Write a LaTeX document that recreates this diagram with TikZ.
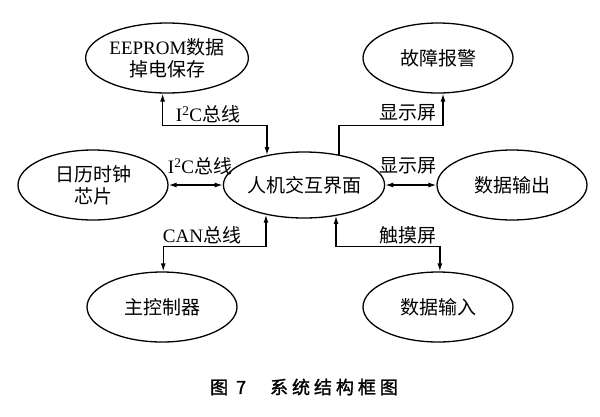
\documentclass[tikz,border=0pt]{standalone}
\usepackage{fontspec}
\setmainfont{Liberation Serif}
\newfontfamily\cjk{Noto Sans CJK SC}
\newfontfamily\capfont[FakeBold=1.5,LetterSpace=22]{Noto Sans CJK SC}
\usetikzlibrary{shapes.geometric,arrows.meta}
\tikzset{
  blob/.style={ellipse,draw,line width=1.3pt,minimum width=150pt,minimum height=70pt,inner sep=0pt,align=center,font=\fontsize{19pt}{22pt}\selectfont},
  wire/.style={line width=1.3pt},
  lbl/.style={inner sep=0pt,font=\fontsize{19pt}{22pt}\selectfont},
  >={Latex[length=8pt,width=5pt]}
}
\begin{document}
\begin{tikzpicture}[x=1pt,y=-1pt]
                    \useasboundingbox (0,0) rectangle (600,416);
                    \node[blob] (eeprom) at (167,58) {EEPROM{\cjk 数据}\\{\cjk 掉电保存}};
                    \node[blob] (alarm) at (438,58) {\cjk 故障报警};
                    \node[blob] (clock) at (93,185) {{\cjk 日历时钟}\\{\cjk 芯片}};
                    \node[blob,minimum width=148pt,minimum height=66pt] (hmi) at (304,185) {\cjk 人机交互界面};
                    \node[blob] (dout) at (512,185) {\cjk 数据输出};
                    \node[blob] (ctrl) at (162,307) {\cjk 主控制器};
                    \node[blob] (din) at (438,307) {\cjk 数据输入};

                    \draw[wire,<->] (eeprom.263) -- ++(0,32) -| (hmi.141);
                    \node[lbl] (busA) at (208,114) {I\textsuperscript{2}C{\cjk 总线}};

                    \draw[wire,<-] (alarm.278) -- ++(0,32) -| (hmi.41);
                    \node[lbl] (scrA) at (408,113) {\cjk 显示屏};

                    \draw[wire,<->] (clock.east) -- (hmi.west);
                    \node[lbl] (busB) at (200,166) {I\textsuperscript{2}C{\cjk 总线}};

                    \draw[wire,<->] (hmi.east) -- (dout.west);
                    \node[lbl] (scrB) at (408,166) {\cjk 显示屏};

                    \draw[wire,<->] (ctrl.88) -- ++(0,-25) -| (hmi.218);
                    \node[lbl] (busC) at (202,235) {CAN{\cjk 总线}};

                    \draw[wire,<->] (din.87) -- ++(0,-25) -| (hmi.316);
                    \node[lbl] (touch) at (408,235) {\cjk 触摸屏};

                    \node[inner sep=0pt,font=\fontsize{18pt}{20pt}\selectfont] (cap) at (304,387) {\capfont 图 7\hspace{24pt}系统结构框图};
                \end{tikzpicture}
\end{document}
